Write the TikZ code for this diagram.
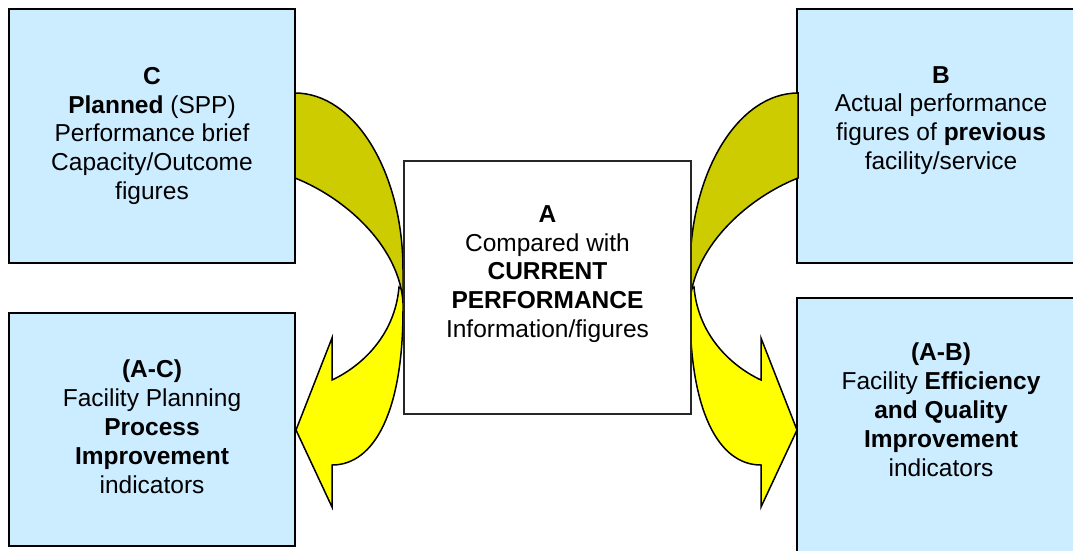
\documentclass[tikz,border=0pt]{standalone}
\usepackage{fontspec}
\setmainfont{Liberation Sans}
\usetikzlibrary{positioning}
\definecolor{paleblue}{HTML}{CCECFF}
\definecolor{arrowback}{HTML}{CCCC00}
\definecolor{arrowfront}{HTML}{FFFF00}
\tikzset{
  infobox/.style={draw=black, line width=2pt, fill=paleblue, inner sep=0pt},
  centrebox/.style={draw=black!85, line width=1.5pt, fill=white, inner sep=0pt},
  boxtext/.style={inner sep=0pt, align=center, font=\fontsize{24.5}{28.8}\selectfont},
  backpart/.style={draw=black, line width=1.5pt, fill=arrowback},
  frontpart/.style={draw=black, line width=1.5pt, fill=arrowfront}
}
\newcommand{\bendarrow}{%
  \draw[frontpart] (403,290) -- (403,310) .. controls (403,410) and (375,465) .. (332,465)
    -- (332,507) -- (296,430) -- (332,338) -- (332,380)
    .. controls (362,366) and (395,335) .. (399,287) -- cycle;
  \draw[backpart] (295,93) .. controls (354.6,93) and (403,172) .. (403,270) -- (403,303)
    .. controls (400,250) and (350,200) .. (295,178) -- cycle;
}

\begin{document}
\begin{tikzpicture}[x=1pt,y=-1pt]
\useasboundingbox (0,0) rectangle (1073,550);
\clip (0,0) rectangle (1073,550);

\node[infobox, minimum width=286, minimum height=254] (boxC) at (152,136) {};
\node[infobox, minimum width=288, minimum height=254] (boxB) at (941,136) {};
\node[infobox, minimum width=286, minimum height=233] (boxAC) at (152,429.5) {};
\node[infobox, minimum width=288, minimum height=255] (boxAB) at (941,425.5) {};

\bendarrow
\begin{scope}[xshift=1093pt, xscale=-1]
  \bendarrow
\end{scope}

\node[centrebox, minimum width=287, minimum height=253] (boxA) at (547.5,287.5) {};

\node[boxtext, below=59pt of boxC.north] (txtC)
  {\textbf{C}\\\textbf{Planned} (SPP)\\Performance brief\\Capacity/Outcome\\figures};
\node[boxtext, below=58pt of boxB.north] (txtB)
  {\textbf{B}\\Actual performance\\figures of \textbf{previous}\\facility/service};
\node[boxtext, below=45pt of boxA.north] (txtA)
  {\textbf{A}\\Compared with\\\textbf{CURRENT}\\\textbf{PERFORMANCE}\\Information/figures};
\node[boxtext, below=48pt of boxAC.north] (txtAC)
  {\textbf{(A-C)}\\Facility Planning\\\textbf{Process}\\\textbf{Improvement}\\indicators};
\node[boxtext, below=46pt of boxAB.north] (txtAB)
  {\textbf{(A-B)}\\Facility \textbf{Efficiency}\\\textbf{and Quality}\\\textbf{Improvement}\\indicators};
\end{tikzpicture}
\end{document}
